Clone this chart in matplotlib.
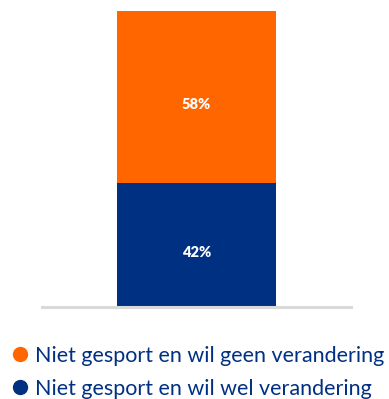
import matplotlib
matplotlib.use('Agg')
import matplotlib.pyplot as plt
from matplotlib.lines import Line2D

categories = ['Niet gesport en wil wel verandering', 'Niet gesport en wil geen verandering']
values = [42, 58]
colors = ['#003082', '#FF6600']
labels = ['42%', '58%']

plt.rcParams['font.family'] = ['Lato', 'DejaVu Sans']

fig = plt.figure(figsize=(3.89, 3.99), dpi=100)
ax = fig.add_axes([42/389, 1-307/399, 309/389, 296/399])

bottom = 0
for v, c, lab in zip(values, colors, labels):
    ax.bar(0, v, bottom=bottom, width=1.03, color=c)
    ax.text(0, bottom + v/2 - 2.5, lab, ha='center', va='center',
            color='white', fontsize=10.5, fontweight='heavy')
    bottom += v

ax.set_xlim(-1, 1)
ax.set_ylim(0, 100)
ax.axhline(0, color='#d9d9d9', lw=2.2, clip_on=False)
ax.axis('off')

# legend, top entry is the upper segment
handles = [Line2D([], [], marker='o', ls='', color=colors[i], markersize=10)
           for i in (1, 0)]
leg = fig.legend(handles, [categories[1], categories[0]],
                 loc='upper left', bbox_to_anchor=(0.013, 1-337/399),
                 frameon=False, fontsize=15.5, handlelength=0.6,
                 handletextpad=0.4, labelspacing=0.62, borderaxespad=0)
for t in leg.get_texts():
    t.set_color('#003082')

fig.savefig('out.png', dpi=100)
